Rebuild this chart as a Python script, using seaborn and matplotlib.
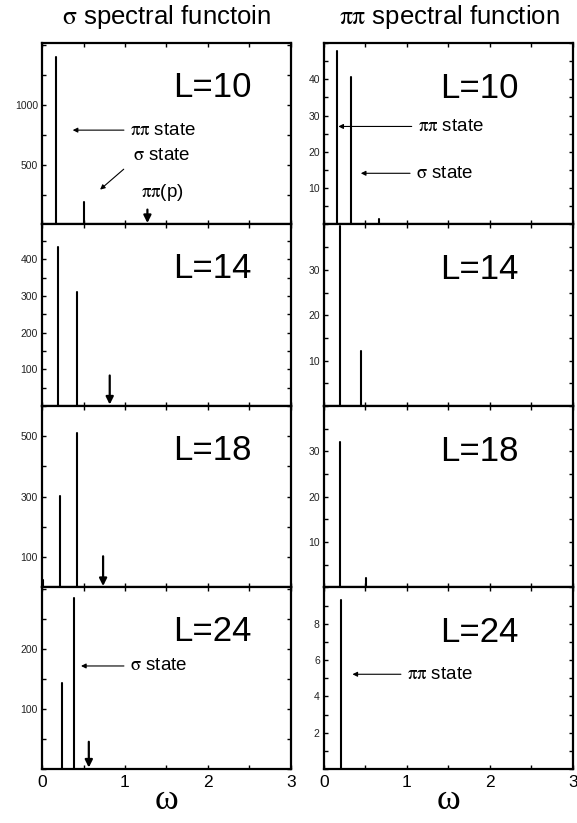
import matplotlib
matplotlib.use('Agg')
import numpy as np
import pandas as pd
import matplotlib.pyplot as plt
import seaborn as sns
from matplotlib.ticker import FixedLocator, MultipleLocator

# lattice sizes, one row of panels each
L_values = [10, 14, 18, 24]

# sigma spectral function: peak positions (omega) and weights
sigma_omega = [[0.168, 0.504], [0.196, 0.424], [0.008, 0.216, 0.424], [0.236, 0.384]]
sigma_amp = [[1400, 190], [433, 312], [25, 304, 512], [143, 286]]

# pi pi spectral function: peak positions and weights
pipi_omega = [[0.161, 0.323, 0.657], [0.194, 0.444], [0.194, 0.51], [0.2]]
pipi_amp = [[47.8, 40.5, 1.5], [39.6, 12.2], [32.1, 2.2], [9.32]]

# pi pi(p) level marked by the arrow in the sigma panels
pp_omega = [1.27, 0.816, 0.736, 0.564]

sigma_ymax = [1520, 495, 600, 303]
pipi_ymax = [50, 40, 40, 10]
sigma_yticks = [[500, 1000], [100, 200, 300, 400], [100, 300, 500], [100, 200]]
pipi_yticks = [[10, 20, 30, 40], [10, 20, 30], [10, 20, 30], [2, 4, 6, 8]]
sigma_minor = [250, 50, 100, 50]
pipi_minor = [5, 5, 5, 1]

x_ticks = [0, 1, 2, 3]


def peaks_frame(omegas, amps):
    rows = []
    for i, (w, a) in enumerate(zip(omegas, amps)):
        rows.append({'omega': w, 'amp': 0.0, 'peak': i})
        rows.append({'omega': w, 'amp': a, 'peak': i})
    return pd.DataFrame(rows)


sns.set_theme(style='ticks')
plt.rcParams['font.family'] = ['Liberation Sans', 'DejaVu Sans']
plt.rcParams['mathtext.fontset'] = 'stix'
plt.rcParams['text.color'] = 'black'
plt.rcParams['axes.labelcolor'] = 'black'
plt.rcParams['xtick.color'] = 'black'
plt.rcParams['ytick.color'] = 'black'

fig, axes = plt.subplots(4, 2, figsize=(5.77, 8.23), dpi=100, sharex=True,
                         gridspec_kw=dict(hspace=0, wspace=0.1325))
fig.subplots_adjust(left=0.0728, right=0.993, top=0.9478, bottom=0.0656)

thin = dict(arrowstyle='-|>', lw=0.8, color='black', mutation_scale=7, shrinkA=2, shrinkB=0)
thick = dict(arrowstyle='-|>', lw=1.6, color='black', mutation_scale=11, shrinkA=0, shrinkB=0)
ann_size = 13.5

for row, L in enumerate(L_values):
    for col in range(2):
        ax = axes[row, col]
        if col == 0:
            df = peaks_frame(sigma_omega[row], sigma_amp[row])
            ymax, yt, ym = sigma_ymax[row], sigma_yticks[row], sigma_minor[row]
        else:
            df = peaks_frame(pipi_omega[row], pipi_amp[row])
            ymax, yt, ym = pipi_ymax[row], pipi_yticks[row], pipi_minor[row]
        sns.lineplot(data=df, x='omega', y='amp', units='peak', estimator=None,
                     sort=False, color='black', lw=1.5, legend=False, ax=ax)
        ax.set_xlim(0, 3)
        ax.set_ylim(0, ymax)
        ax.xaxis.set_major_locator(FixedLocator(x_ticks))
        ax.xaxis.set_minor_locator(MultipleLocator(0.5))
        ax.yaxis.set_major_locator(FixedLocator(yt))
        ax.yaxis.set_minor_locator(MultipleLocator(ym))
        ax.tick_params(which='both', direction='in', top=True, right=True,
                       length=3, width=1, color='black')
        ax.tick_params(axis='y', labelsize=7.5, labelcolor='#222222', pad=3)
        ax.tick_params(axis='x', labelsize=12.5, labelcolor='black', pad=4)
        for s in ax.spines.values():
            s.set_linewidth(1.6)
            s.set_color('black')
        ax.set_xlabel('')
        ax.set_ylabel('')
        lx = 2.05 if col == 0 else 1.87
        ax.text(lx, ymax * 0.755 if col == 0 else ymax * 0.75, f'L={L}',
                ha='center', va='center', fontsize=25)

        if col == 0:
            ax.annotate('', xy=(pp_omega[row], ymax * 0.008),
                        xytext=(pp_omega[row], ymax * [0.082, 0.168, 0.172, 0.15][row]),
                        arrowprops=thick)

# annotations
ax = axes[0, 0]
ax.annotate(r'$\mathrm{\pi\pi}$ state', xy=(0.37, 790), xytext=(1.06, 790),
            va='center', fontsize=ann_size, arrowprops=thin)
ax.annotate(r'$\mathrm{\sigma}$ state', xy=(0.70, 292), xytext=(1.1, 575),
            va='center', fontsize=ann_size,
            arrowprops=dict(thin, relpos=(0, 0.2), shrinkA=6))
ax.text(1.45, 267, r'$\mathrm{\pi\pi}$(p)', ha='center', va='center', fontsize=ann_size)

ax = axes[3, 0]
ax.annotate(r'$\mathrm{\sigma}$ state', xy=(0.47, 172), xytext=(1.06, 172),
            va='center', fontsize=ann_size, arrowprops=thin)

ax = axes[0, 1]
ax.annotate(r'$\mathrm{\pi\pi}$ state', xy=(0.173, 27), xytext=(1.13, 27),
            va='center', fontsize=ann_size, arrowprops=thin)
ax.annotate(r'$\mathrm{\sigma}$ state', xy=(0.444, 14.1), xytext=(1.11, 14.1),
            va='center', fontsize=ann_size, arrowprops=thin)

ax = axes[3, 1]
ax.annotate(r'$\mathrm{\pi\pi}$ state', xy=(0.343, 5.22), xytext=(1.0, 5.22),
            va='center', fontsize=ann_size, arrowprops=thin)

for col in range(2):
    axes[3, col].set_xlabel('ω', fontsize=26, family='Liberation Serif', labelpad=-4)

fig.text(167 / 577, 1 - 17 / 823, r'$\mathrm{\sigma}$ spectral functoin',
         ha='center', va='center', fontsize=18.5)
fig.text(449 / 577, 1 - 17 / 823, r'$\mathrm{\pi\pi}$ spectral function',
         ha='center', va='center', fontsize=18.5)

fig.savefig('out.png', dpi=100)
